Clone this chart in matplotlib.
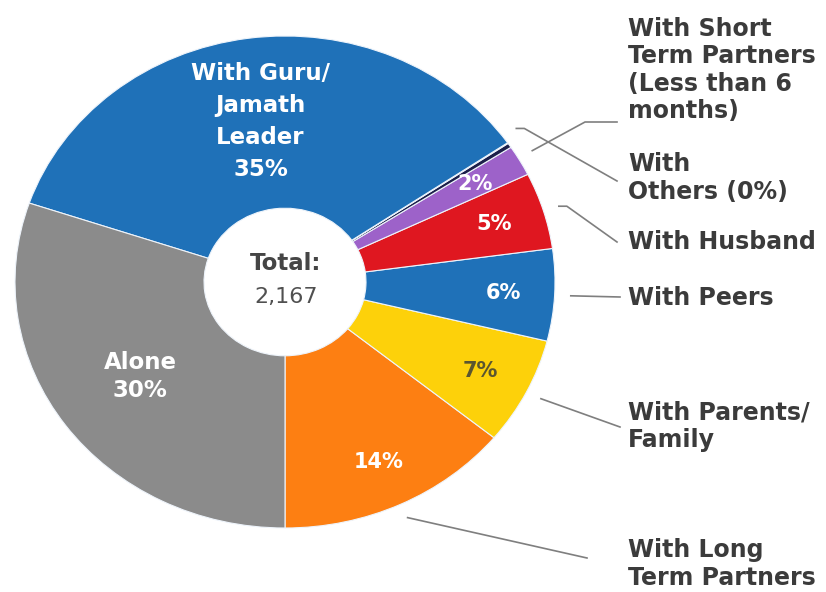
import matplotlib.pyplot as plt
import numpy as np

# slices, counter-clockwise from 6 o'clock
groups = ['With Long\nTerm Partners', 'With Parents/\nFamily', 'With Peers',
          'With Husband', 'With Others (purple)',
          'With Short\nTerm Partners\n(Less than 6\nmonths)', 'With\nOthers (0%)',
          'With Guru/\nJamath\nLeader', 'Alone']
shares = [14, 7, 6, 5, 2, 0.3, 0.05, 35, 30]
inner_labels = ['14%', '7%', '6%', '5%', '2%', '', '', 'With Guru/\nJamath\nLeader\n35%', 'Alone\n30%']
colors = ['#fd7f12', '#fdd10a', '#1f71b8', '#df1720', '#9d62c9', '#1c1f4a', '#3a3a7a',
          '#1f71b8', '#8b8b8b']
outside = [True, True, True, True, False, True, True, False, False]
total = '2,167'

W, H = 826, 592
CX, CY, RX, RY = 285, 282, 270, 246


def px(x, y):
    return (x - CX) / RX, (CY - y) / RY


fig = plt.figure(figsize=(W / 100, H / 100), dpi=100)
ax = fig.add_axes([0, 0, 1, 1])
wedges, _ = ax.pie(shares, colors=colors, startangle=-90, counterclock=True,
                   wedgeprops=dict(width=0.70, edgecolor='#eef4fb', linewidth=0.8))
ax.set_aspect('auto')
ax.set_xlim(px(0, 0)[0], px(W, 0)[0])
ax.set_ylim(px(0, H)[1], px(0, 0)[1])
ax.axis('off')

# labels inside the ring
for w, lab in zip(wedges, inner_labels):
    if not lab:
        continue
    mid = np.deg2rad((w.theta1 + w.theta2) / 2)
    big = '\n' in lab
    r = 0.66 if big else 0.81
    col = '#5a5530' if lab == '7%' else 'white'
    ax.text(r * np.cos(mid), r * np.sin(mid), lab, ha='center', va='center',
            color=col, fontsize=16.5 if big else 15, fontweight='bold',
            linespacing=1.5 if lab.count('\n') > 1 else 1.25)

# centre
tx, ty = px(286, 264)
ax.text(tx, ty, 'Total:', ha='center', va='center', fontsize=16.5,
        fontweight='bold', color='#454545')
tx, ty = px(286, 297)
ax.text(tx, ty, total, ha='center', va='center', fontsize=16, color='#505050')

# leader lines and outside labels
angle_shift = {5: -3.5, 6: 1.7}
bends = {0: [], 1: [], 2: [], 3: [(567, 205)], 5: [(585, 122)], 6: [(523, 128)]}
ends = {0: (587, 558), 1: (620, 427), 2: (620, 297), 3: (617, 242),
        5: (617, 122), 6: (617, 181)}
text_y = {0: 564, 1: 426, 2: 298, 3: 242, 5: 70, 6: 178}

for i, w in enumerate(wedges):
    if not outside[i]:
        continue
    mid = np.deg2rad((w.theta1 + w.theta2) / 2 + angle_shift.get(i, 0))
    xs = [1.06 * np.cos(mid)]
    ys = [1.06 * np.sin(mid)]
    for b in bends[i]:
        bx, by = px(*b)
        if i in (3, 6):
            bx = xs[0] + 8 / RX
            by = ys[0]
        xs.append(bx)
        ys.append(by)
    ex, ey = px(*ends[i])
    xs.append(ex)
    ys.append(ey)
    ax.plot(xs, ys, color='#7f7f7f', lw=1.2)
    lx, ly = px(628, text_y[i])
    ax.text(lx, ly, groups[i], ha='left', va='center', fontsize=17,
            fontweight='bold', color='#3b3b3b', linespacing=1.17)

fig.savefig('out.png', dpi=100)
